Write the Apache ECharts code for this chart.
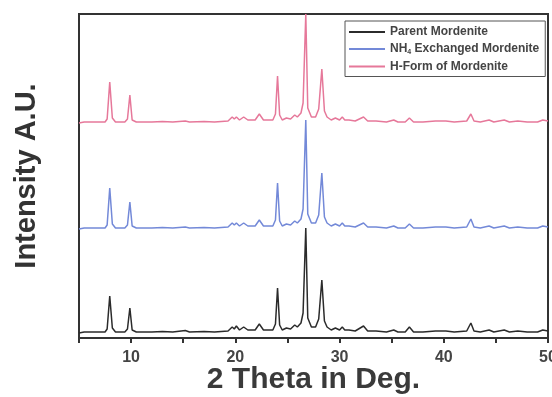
<!DOCTYPE html>
<html>
<head>
<meta charset="utf-8">
<script src="https://cdn.jsdelivr.net/npm/echarts@6/dist/echarts.min.js"></script>
<style>
  html, body { margin: 0; padding: 0; background: #fff; }
  #chart { width: 552px; height: 397px; }
</style>
</head>
<body>
<div id="chart"></div>
<script>
// 2 theta positions (deg) shared by the three patterns
var theta = [5.0, 5.5, 6.5, 7.5, 7.7, 7.95, 8.2, 8.5, 9.4, 9.65,
  9.88, 10.1, 10.5, 12.0, 13.0, 14.0, 15.2, 15.6, 17.0, 18.0,
  19.3, 19.7, 19.9, 20.1, 20.4, 20.8, 21.2, 21.9, 22.3, 22.7,
  23.6, 23.85, 24.05, 24.25, 24.5, 24.9, 25.3, 25.7, 25.95, 26.3,
  26.5, 26.76, 26.95, 27.3, 27.7, 28.0, 28.3, 28.55, 28.8, 29.2,
  29.6, 30.0, 30.26, 30.5, 30.9, 31.5, 32.3, 32.7, 33.5, 34.5,
  35.2, 35.6, 36.3, 36.7, 37.1, 38.0, 39.2, 40.2, 41.0, 42.2,
  42.6, 42.9, 43.5, 44.35, 44.8, 45.8, 46.3, 47.1, 48.0, 49.0,
  49.5, 50.0]

// intensities above each pattern's own baseline (a.u.)
var parent = [0, 1, 1, 1, 4, 37, 5, 1, 1, 4,
  25, 3, 1, 1, 1.5, 1, 2.5, 1, 1.5, 1,
  2, 6, 4, 7, 3, 6, 3, 3, 9, 3,
  3, 9, 45, 8, 3, 5, 4, 8, 6, 10,
  20, 105, 15, 6, 6, 14, 53, 12, 6, 3,
  5, 3, 6, 3, 3, 2, 7, 2, 2, 1,
  3, 1, 1, 6, 1, 1, 2, 2, 1, 2,
  10, 2, 1, 3, 1, 3, 1, 2, 1, 1,
  3, 2]
var nh4 = [0, 1, 1, 1, 4, 41, 5, 1, 1, 4,
  27, 3, 1, 1, 1.5, 1, 2, 1, 1.5, 1,
  2, 6, 4, 6, 3, 6, 3, 3, 9, 3,
  3, 9, 46, 8, 3, 5, 4, 8, 6, 10,
  20, 109, 15, 6, 6, 14, 56, 12, 6, 3,
  5, 3, 6, 3, 3, 2, 6, 2, 2, 1,
  3, 1, 1, 5, 1, 1, 2, 2, 1, 2,
  10, 2, 1, 3, 1, 3, 1, 2, 1, 1,
  3, 2]
var hform = [0, 1, 1, 1, 4, 41, 5, 1, 1, 4,
  28, 3, 1, 1, 1.5, 1, 2, 1, 1.5, 1,
  2, 6, 4, 6, 3, 6, 3, 3, 9, 3,
  3, 9, 47, 8, 3, 5, 4, 8, 6, 10,
  20, 109, 15, 6, 6, 14, 54, 12, 6, 3,
  5, 3, 6, 3, 3, 2, 6, 2, 2, 1,
  3, 1, 1, 5, 1, 1, 2, 2, 1, 2,
  9, 2, 1, 3, 1, 3, 1, 2, 1, 1,
  3, 2]

var names = ['Parent Mordenite', 'NH4 Exchanged Mordenite', 'H-Form of Mordenite']
var offsets = [5, 109, 215] // vertical stacking of the patterns
var colors = ['#2b2b2b', '#7389d8', '#e6789a']

function pts(vals, off) {
  return theta.map(function (t, i) { return [t, vals[i] + off] })
}

var chart = echarts.init(document.getElementById('chart'))
chart.setOption({
  animation: false,
  backgroundColor: '#fff',
  grid: {
    left: 79, right: 4, top: 14, bottom: 59,
    outerBoundsMode: 'none',
    containLabel: false,
    show: true, borderColor: '#333', borderWidth: 2
  },
  legend: {
    data: names,
    orient: 'vertical',
    left: 345, top: 21,
    backgroundColor: '#fff',
    borderColor: '#555', borderWidth: 1,
    padding: [5, 6, 4, 4],
    itemGap: 5,
    itemWidth: 36, itemHeight: 2,
    icon: 'rect',
    textStyle: {
      fontFamily: 'Liberation Sans', fontWeight: 'bold', fontSize: 12, color: '#444',
      rich: { sub: { fontSize: 7, fontWeight: 'bold', color: '#444', padding: [6, 0, 0, 0] } }
    },
    formatter: function (n) { return n.replace('NH4', 'NH{sub|4}') }
  },
  xAxis: {
    type: 'value', min: 5, max: 50, interval: 5,
    name: '2 Theta in Deg.', nameLocation: 'middle', nameGap: 27,
    nameMoveOverlap: false,
    nameTextStyle: { fontFamily: 'Liberation Sans', fontWeight: 'bold', fontSize: 30, color: '#3a3a3a' },
    axisLine: { lineStyle: { color: '#333', width: 2 } },
    axisTick: { inside: false, length: 5, lineStyle: { color: '#333', width: 2 } },
    axisLabel: {
      margin: 12, fontFamily: 'Liberation Sans', fontWeight: 'bold', fontSize: 16, color: '#444',
      formatter: function (v) { return v % 10 === 0 ? String(v) : '' }
    },
    splitLine: { show: false }
  },
  yAxis: {
    type: 'value', min: 0, max: 324,
    name: 'Intensity A.U.', nameLocation: 'middle', nameGap: 38,
    nameMoveOverlap: false,
    nameTextStyle: { fontFamily: 'Liberation Sans', fontWeight: 'bold', fontSize: 29, color: '#333' },
    axisLine: { show: true, lineStyle: { color: '#333', width: 2 } },
    axisTick: { show: false },
    axisLabel: { show: false },
    splitLine: { show: false }
  },
  series: [
    { name: names[0], type: 'line', data: pts(parent, offsets[0]), color: colors[0] },
    { name: names[1], type: 'line', data: pts(nh4, offsets[1]), color: colors[1] },
    { name: names[2], type: 'line', data: pts(hform, offsets[2]), color: colors[2] }
  ].map(function (s) {
    s.showSymbol = false
    s.symbol = 'none'
    s.clip = true
    s.lineStyle = { width: 1.5 }
    return s
  })
})
</script>
</body>
</html>
